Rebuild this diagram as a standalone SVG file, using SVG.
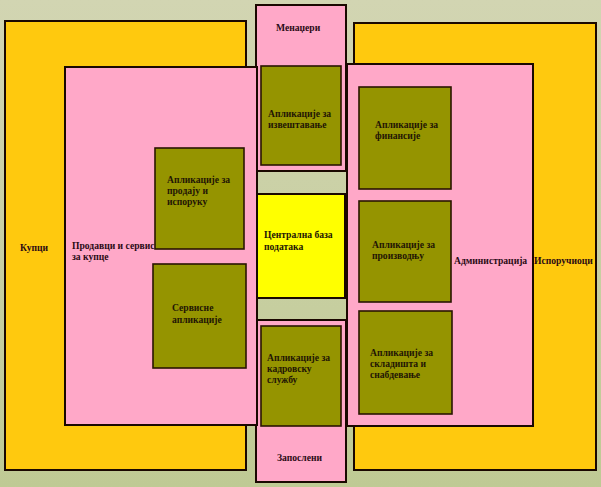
<svg xmlns="http://www.w3.org/2000/svg" width="601" height="487" viewBox="0 0 601 487">
<defs>
<linearGradient id="bg" x1="0" y1="0" x2="0" y2="1">
<stop offset="0" stop-color="#d2d5b2"/>
<stop offset="1" stop-color="#bfca94"/>
</linearGradient>
</defs>
<style>
.y{fill:#ffc90e;stroke:#1a0800;stroke-width:2}
.p{fill:#ffa8c8;stroke:#1a0800;stroke-width:2}
.o{fill:#959400;stroke:#2a1500;stroke-width:1.6}
.c{fill:#ffff00;stroke:#1a0800;stroke-width:2}
text{font-family:"Liberation Serif","Times New Roman",serif;font-weight:bold;font-size:9.6px;fill:#2a0a14}
.t{fill:#221505}
</style>
<rect x="0" y="0" width="601" height="487" fill="url(#bg)"/>
<g id="kupci"><rect class="y" x="5" y="21" width="241" height="449"/><text x="20" y="251">Купци</text></g>
<g id="isporucioci"><rect class="y" x="354" y="23" width="242" height="447"/><text x="534" y="264">Испоручиоци</text></g>
<g id="menadzeri"><rect class="p" x="256" y="5" width="90" height="166"/><text x="276" y="31">Менаџери</text></g>
<g id="zaposleni"><rect class="p" x="256" y="320" width="90" height="162"/><text x="277" y="461">Запослени</text></g>
<g id="prodavci"><rect class="p" x="65" y="67" width="192" height="358"/><text x="72" y="249">Продавци и сервис</text><text x="72" y="260">за купце</text></g>
<g id="administracija"><rect class="p" x="347" y="64" width="186" height="362"/><text x="454" y="264">Администрација</text></g>
<g id="baza"><rect class="c" x="257" y="194" width="88" height="104"/><text class="t" x="264" y="238">Централна база</text><text class="t" x="264" y="250">података</text></g>
<g id="izvestavanje"><rect class="o" x="261" y="66" width="80" height="99"/><text class="t" x="268" y="117">Апликације за</text><text class="t" x="268" y="128">извештавање</text></g>
<g id="kadrovska"><rect class="o" x="261" y="326" width="80" height="100"/><text class="t" x="267" y="361">Апликације за</text><text class="t" x="267" y="372">кадровску</text><text class="t" x="267" y="383">службу</text></g>
<g id="prodaja"><rect class="o" x="155" y="148" width="89" height="101"/><text class="t" x="167" y="183">Апликације за</text><text class="t" x="167" y="194">продају и</text><text class="t" x="167" y="205">испоруку</text></g>
<g id="servisne"><rect class="o" x="153" y="264" width="93" height="104"/><text class="t" x="172" y="311">Сервисне</text><text class="t" x="172" y="323">апликације</text></g>
<g id="finansije"><rect class="o" x="359" y="87" width="92" height="102"/><text class="t" x="375" y="128">Апликације за</text><text class="t" x="375" y="139">финансије</text></g>
<g id="proizvodnja"><rect class="o" x="359" y="201" width="92" height="101"/><text class="t" x="372" y="248">Апликације за</text><text class="t" x="372" y="259">производњу</text></g>
<g id="skladista"><rect class="o" x="359" y="311" width="93" height="103"/><text class="t" x="370" y="356">Апликације за</text><text class="t" x="370" y="367">складишта и</text><text class="t" x="370" y="378">снабдевање</text></g>
<g id="connectors"></g>
</svg>
